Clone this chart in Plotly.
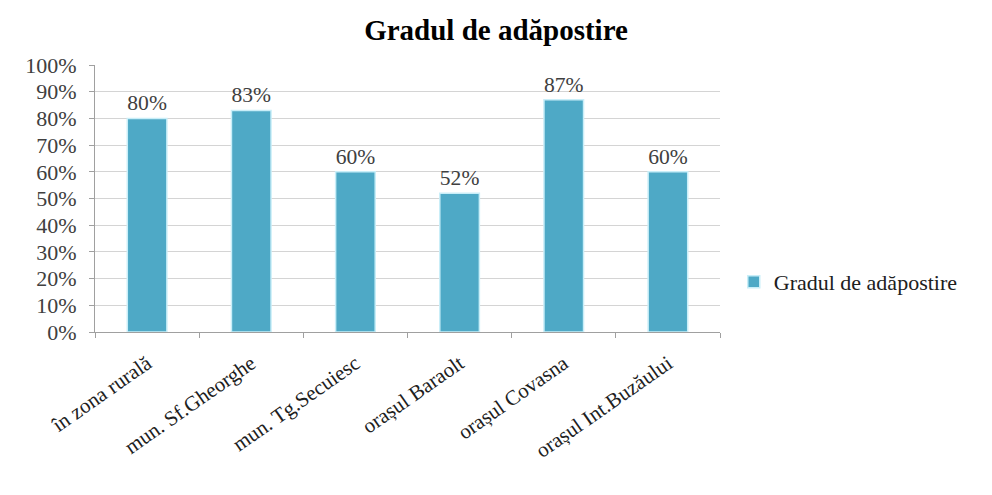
import plotly.graph_objects as go

categories = ["în zona rurală", "mun. Sf.Gheorghe", "mun. Tg.Secuiesc",
              "orașul Baraolt", "orașul Covasna", "orașul Int.Buzăului"]
values = [0.80, 0.83, 0.60, 0.52, 0.87, 0.60]
series_name = "Gradul de adăpostire"
title_text = "Gradul de adăpostire"
y_ticks = [i / 10 for i in range(11)]

FONT = "Liberation Serif"
W, H = 984, 487  # page body adds an 8px offset

fig = go.Figure()
fig.add_trace(go.Bar(
    x=categories, y=values, name=series_name,
    marker=dict(color="#4ea9c6", line=dict(color="#c9eef8", width=1.5)),
    text=[f"{round(v*100)}%" for v in values],
    textposition="outside", cliponaxis=False,
    textfont=dict(family=FONT, size=22, color="#404040"),
    showlegend=True,
))

fig.update_layout(
    width=W, height=H,
    paper_bgcolor="white", plot_bgcolor="white",
    margin=dict(l=87, r=272, t=57, b=163, autoexpand=False),
    bargap=0.62,
    title=dict(text=f"<b>{title_text}</b>", x=(496 - 8) / W, xanchor="center",
               y=1 - 22 / H, yanchor="middle",
               font=dict(family=FONT, size=29, color="#000000")),
    font=dict(family=FONT, color="#404040"),
    legend=dict(x=1.022, y=0.187, xanchor="left", yanchor="middle",
                font=dict(family=FONT, size=22, color="#202020"),
                itemwidth=30, bgcolor="rgba(0,0,0,0)"),
    showlegend=True,
)

fig.update_yaxes(
    range=[0, 1], tickvals=y_ticks, tickformat=".0%",
    showgrid=True, gridcolor="#d4d4d4", gridwidth=1,
    showline=True, linecolor="#a0a0a0", linewidth=1,
    ticks="outside", ticklen=5, tickcolor="#a0a0a0",
    ticklabelstandoff=8,
    tickfont=dict(family=FONT, size=22, color="#404040"),
    zeroline=False, automargin=False,
)
fig.update_xaxes(
    showline=True, linecolor="#a0a0a0", linewidth=1,
    ticks="outside", ticklen=5, tickcolor="#a0a0a0",
    tickson="boundaries", tickangle=-35, ticklabelstandoff=10,
    tickfont=dict(family=FONT, size=21, color="#202020"),
    automargin=False,
)

fig.write_html("out.html")
